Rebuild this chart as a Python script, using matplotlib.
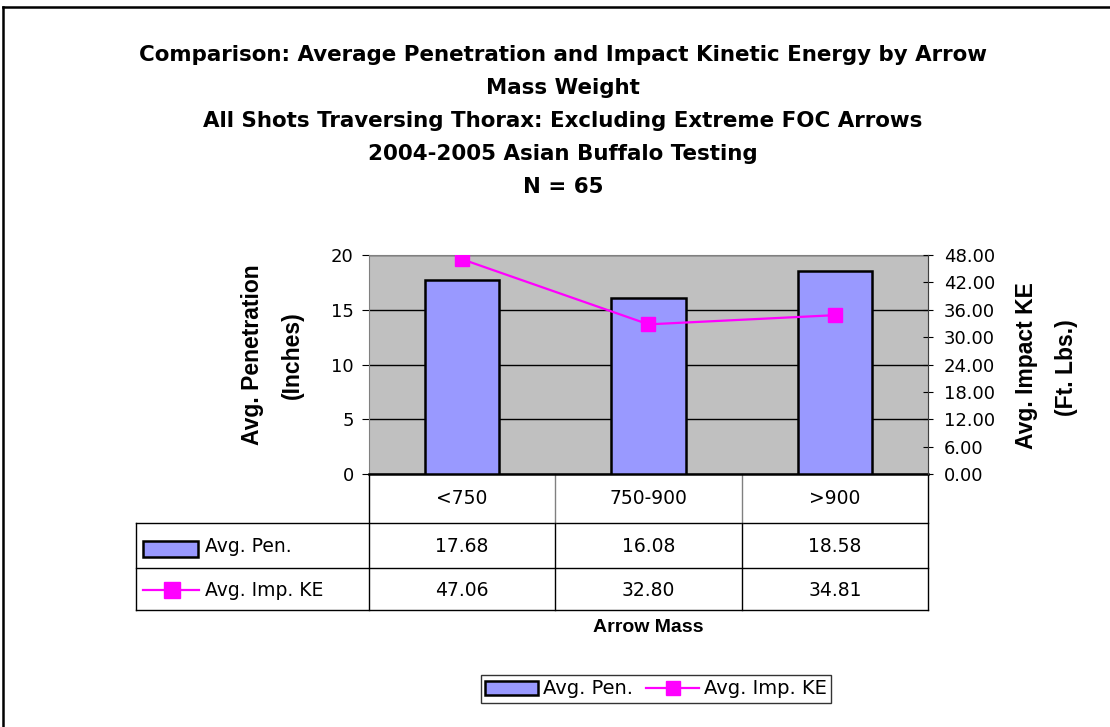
import matplotlib.pyplot as plt
import numpy as np
from matplotlib.patches import Rectangle
from matplotlib.lines import Line2D

# ======== data ==========
categories = ['<750', '750-900', '>900']
avg_pen = [17.68, 16.08, 18.58]
avg_ke = [47.06, 32.80, 34.81]
pen_labels = ['17.68', '16.08', '18.58']
ke_labels = ['47.06', '32.80', '34.81']
title_lines = ['Comparison: Average Penetration and Impact Kinetic Energy by Arrow',
               'Mass Weight',
               'All Shots Traversing Thorax: Excluding Extreme FOC Arrows',
               '2004-2005 Asian Buffalo Testing',
               'N = 65']

BAR = '#9999FF'
LINE = '#FF00FF'
plt.rcParams['font.family'] = ['DejaVu Sans']
LAB = 'Liberation Sans'

W, H = 1110, 727
fig = plt.figure(figsize=(W / 100, H / 100), dpi=100)

# outer frame
fig.add_artist(Line2D([3 / W, 3 / W], [0, 1 - 7 / H], color='black', lw=1.8))
fig.add_artist(Line2D([3 / W, 1], [1 - 7 / H, 1 - 7 / H], color='black', lw=1.8))

# title
for i, t in enumerate(title_lines):
    fig.text(563 / W, 1 - (55 + 33 * i) / H, t, ha='center', va='center',
             fontsize=15.4, fontweight='bold')

ax = fig.add_axes([369 / W, 1 - 474 / H, (928 - 369) / W, (474 - 255) / H])
x = np.arange(len(categories))
ax.set_facecolor('#C0C0C0')
ax.bar(x, avg_pen, width=0.4, color=BAR, edgecolor='black', lw=1.8, zorder=3)
ax.set_xlim(-0.5, 2.5)
ax.set_ylim(0, 20)
ax.set_yticks(np.arange(0, 21, 5))
ax.set_xticks([])
ax.yaxis.grid(True, color='black', lw=1)
ax.set_axisbelow(True)
ax.tick_params(axis='y', labelsize=13, length=5, pad=6, direction='out')
for s in ['top', 'left', 'right']:
    ax.spines[s].set_color('#808080')
ax.spines['bottom'].set_linewidth(1.8)

ax2 = ax.twinx()
ax2.plot(x, avg_ke, color=LINE, marker='s', ms=10, lw=1.6, zorder=4)
ax2.set_ylim(0, 48)
ax2.set_yticks(np.arange(0, 49, 6))
ax2.set_yticklabels(['%.2f' % v for v in np.arange(0, 49, 6)])
ax2.tick_params(axis='y', labelsize=13, length=7, pad=8, direction='inout')
ax2.spines['right'].set_color('#404040')
for s in ['top', 'left', 'bottom']:
    ax2.spines[s].set_visible(False)

fig.text(253 / W, 1 - 355 / H, 'Avg. Penetration', rotation=90, ha='center', va='center',
         fontsize=16.5, fontweight='bold', family=LAB)
fig.text(292 / W, 1 - 355 / H, '(Inches)', rotation=90, ha='center', va='center',
         fontsize=16.5, fontweight='bold', family=LAB)
fig.text(1027 / W, 1 - 366 / H, 'Avg. Impact KE', rotation=90, ha='center', va='center',
         fontsize=16.5, fontweight='bold', family=LAB)
fig.text(1066 / W, 1 - 368 / H, '(Ft. Lbs.)', rotation=90, ha='center', va='center',
         fontsize=16.5, fontweight='bold', family=LAB)

# data table under the axes
tr = ax.transAxes
y_head, y_r2, y_r3 = -0.224, -0.429, -0.621
left = -0.417
def tline(xs, ys, color='black', lw=1):
    ax.add_line(Line2D(xs, ys, transform=tr, color=color, lw=lw, clip_on=False))

tline([left, 1], [y_head, y_head])
tline([left, 1], [y_r2, y_r2])
tline([left, 1], [y_r3, y_r3])
tline([left, left], [y_head, y_r3])
tline([0, 0], [0, y_r3])
tline([1, 1], [0, y_r3])
for c in [1 / 3, 2 / 3]:
    tline([c, c], [0, y_head], color='#808080')
    tline([c, c], [y_head, y_r3])

for i, cat in enumerate(categories):
    cx = (i + 0.5) / 3
    ax.text(cx, -0.110, cat, transform=tr, ha='center', va='center', fontsize=13.5)
    ax.text(cx, -0.329, pen_labels[i], transform=tr, ha='center', va='center', fontsize=13.5)
    ax.text(cx, -0.530, ke_labels[i], transform=tr, ha='center', va='center', fontsize=13.5)

ax.add_patch(Rectangle((-0.404, -0.379), 0.098, 0.074, transform=tr, facecolor=BAR,
                       edgecolor='black', lw=1.8, clip_on=False))
ax.text(-0.293, -0.329, 'Avg. Pen.', transform=tr, ha='left', va='center', fontsize=13.5)
ax.add_line(Line2D([-0.404, -0.304], [-0.530, -0.530], transform=tr, color=LINE, lw=1.6,
                   clip_on=False))
ax.add_line(Line2D([-0.353], [-0.530], transform=tr, color=LINE, marker='s', ms=11,
                   clip_on=False))
ax.text(-0.293, -0.530, 'Avg. Imp. KE', transform=tr, ha='left', va='center', fontsize=13.5)

ax.text(0.499, -0.703, 'Arrow Mass', transform=tr, ha='center', va='center',
        fontsize=14, fontweight='bold', family=LAB)

handles = [Rectangle((0, 0), 1, 1, facecolor=BAR, edgecolor='black', lw=1.8),
           Line2D([], [], color=LINE, marker='s', ms=10, lw=1.6)]
leg = fig.legend(handles, ['Avg. Pen.', 'Avg. Imp. KE'], loc='center',
                 bbox_to_anchor=(656 / W, 1 - 689 / H), ncol=2, fontsize=14,
                 frameon=True, fancybox=False, edgecolor='black', handlelength=2.7,
                 columnspacing=0.7, handletextpad=0.25, borderpad=0.25)
leg.get_frame().set_linewidth(1)

fig.savefig('out.png', dpi=100)
